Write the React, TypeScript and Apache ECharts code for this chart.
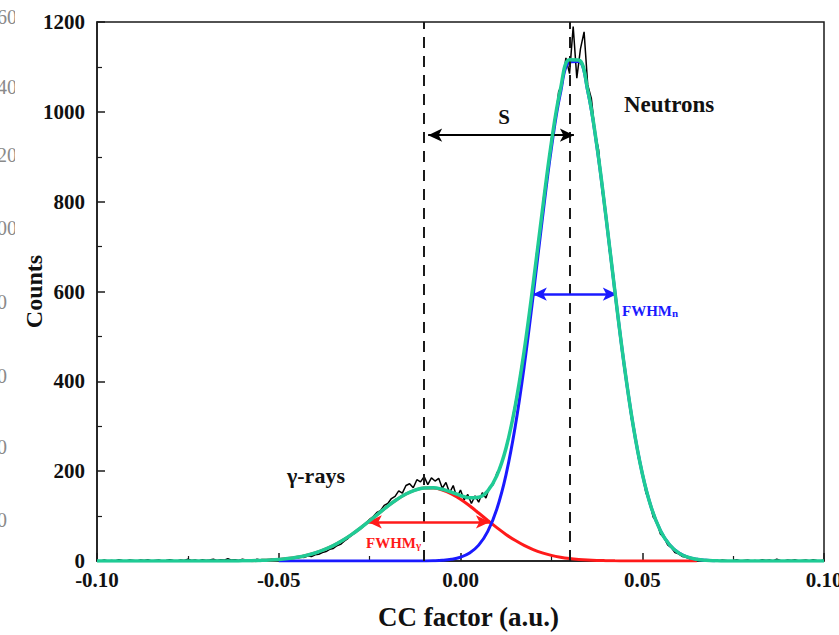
import React, { useEffect, useRef } from "react";
import * as echarts from "echarts";

// ---- Axis ranges / ticks ----
const xRange = [-0.1, 0.1];
const yRange = [0, 1200];
const xInterval = 0.05;
const yInterval = 200;

// ---- Measured spectrum (black), step 0.001 ----
const countsStep = 0.001;
const countsLeftStart = -0.1; // -0.100 .. -0.051
const countsLeft = [
  1, 0, 2, 0, 1, 0, 3, 1, 0, 2,
  1, 0, 2, 1, 3, 0, 1, 2, 0, 1,
  3, 1, 0, 2, 1, 4, 1, 2, 0, 3,
  1, 2, 4, 1, 3, 2, 5, 2, 3, 1,
  4, 2, 3, 1, 4, 2, 3, 1, 4, 2,
];
const countsCoreStart = -0.05; // -0.050 .. 0.070
const countsCore = [
  5, 3, 6, 4, 7, 6, 9, 8, 11, 10,
  14, 15, 19, 21, 26, 28, 34, 37, 44, 50,
  57, 63, 71, 78, 84, 93, 99, 108, 112, 124,
  128, 139, 144, 156, 151, 168, 172, 163, 181, 176,
  188, 170, 185, 178, 184, 162, 175, 152, 168, 141,
  158, 136, 148, 128, 145, 131, 152, 140, 165, 170,
  196, 208, 238, 268, 305, 348, 392, 445, 490, 560,
  612, 690, 740, 820, 862, 940, 975, 1045, 1062, 1120,
  1085, 1190, 1075, 1140, 1178, 1060, 1030, 955, 915, 822,
  775, 690, 640, 560, 505, 430, 384, 318, 280, 228,
  198, 152, 134, 98, 88, 60, 52, 36, 30, 19,
  16, 10, 9, 5, 6, 2, 3, 1, 2, 0,
  1,
];
const countsRightStart = 0.071; // 0.071 .. 0.100
const countsRight = [
  0, 2, 1, 0, 1, 3, 0, 1, 2, 0,
  1, 0, 3, 1, 2, 0, 4, 1, 0, 2,
  1, 3, 0, 1, 2, 0, 3, 1, 0, 2,
];

// ---- Fitted curves, step 0.0025 ----
const fitStep = 0.0025;
const gammaFitStart = -0.0575;
const gammaFit = [
  0.6, 1.3, 2.2, 3.5, 5.5, 8.4, 12.4, 17.9, 25.2, 34.3,
  45.5, 58.7, 73.5, 89.6, 106.1, 122.3, 136.9, 149.1, 157.8, 162.4,
  162.5, 158.1, 149.5, 137.5, 122.9, 106.8, 90.3, 74.2, 59.2, 46.0,
  34.7, 25.5, 18.2, 12.6, 8.5, 5.6, 3.6, 2.2, 1.3, 0.8,
  0.4, 0.2, 0.1, 0, 0, 0, 0, 0, 0, 0,
];
const neutronFitStart = -0.05;
const neutronFit = [
  0, 0, 0, 0, 0, 0, 0, 0, 0, 0,
  0, 0, 0, 0, 0, 0, 0.2, 0.6, 1.5, 3.7,
  8.4, 17.7, 35.3, 66.0, 115.9, 191.3, 296.8, 432.2, 591.7, 760.5,
  918.7, 1041.9, 1110.6, 1111.9, 1046.0, 924.1, 767.1, 598.2, 438.1, 301.5,
  195.0, 118.4, 67.5, 36.2, 18.2, 8.6, 3.8, 1.6, 0.6,
];
const totalFitStart = -0.1;
const totalFit = [
  0, 0, 0, 0, 0, 0, 0, 0, 0, 0,
  0, 0, 0, 0, 0, 0, 0.4, 0.6, 1.3, 2.2,
  3.5, 5.5, 8.4, 12.4, 17.9, 25.2, 34.3, 45.5, 58.7, 73.5,
  89.6, 106.1, 122.3, 136.9, 149.1, 157.8, 162.6, 163.1, 159.6, 153.2,
  145.9, 140.6, 142.1, 156.3, 190.1, 250.5, 342.8, 466.9, 617.2, 778.7,
  931.3, 1050.4, 1116.2, 1115.5, 1048.2, 925.4, 767.9, 598.6, 438.3, 301.6,
  195.0, 118.4, 67.5, 36.2, 18.2, 8.6, 3.8, 1.6, 0.6, 0,
  0, 0, 0, 0, 0, 0, 0, 0, 0, 0,
  0,
];

// ---- Annotations (data units) ----
const peakGamma = -0.0089;
const peakNeutron = 0.0312;
const sArrowY = 948;
const fwhmGamma = [-0.0255, 0.0081];
const fwhmGammaY = 87;
const fwhmNeutron = [0.0199, 0.043];
const fwhmNeutronY = 594;

// leftover labels from a neighbouring panel (cut at the left edge)
const ghostLabels = ["60", "40", "20", "00", "0", "0", "0", "0"];
const ghostY = [17, 87, 155, 228, 302, 376, 447, 520];

const pairs = (start: number, step: number, vals: number[]) =>
  vals.map((v, i) => [+(start + i * step).toFixed(5), v]);

const FONT = "'Liberation Serif', 'Times New Roman', serif";

export default function App() {
  const ref = useRef<HTMLDivElement>(null);
  useEffect(() => {
    if (!ref.current) return;
    const chart = echarts.init(ref.current, undefined, { renderer: "svg" });
    const black = [
      ...pairs(countsLeftStart, countsStep, countsLeft),
      ...pairs(countsCoreStart, countsStep, countsCore),
      ...pairs(countsRightStart, countsStep, countsRight),
    ];
    const axisLine = { onZero: false, lineStyle: { color: "#1a1a1a", width: 1.5 } };
    const option: any = {
      animation: false,
      backgroundColor: "#ffffff",
      grid: {
        left: 97,
        right: 15,
        top: 22,
        bottom: 74,
        show: true,
        borderColor: "#1a1a1a",
        borderWidth: 1.5,
        containLabel: false,
        outerBoundsMode: "none",
      },
      xAxis: {
        type: "value",
        min: xRange[0],
        max: xRange[1],
        interval: xInterval,
        name: "CC factor (a.u.)",
        nameLocation: "middle",
        nameGap: 42,
        nameMoveOverlap: false,
        nameTextStyle: {
          fontFamily: FONT,
          fontWeight: "bold",
          fontSize: 27,
          color: "#111",
          padding: [0, 0, 0, 16],
        },
        axisLine,
        axisTick: { inside: true, length: 8, lineStyle: { color: "#1a1a1a", width: 1.5 } },
        minorTick: { show: true, splitNumber: 2, length: 5, lineStyle: { color: "#1a1a1a", width: 1.2 } },
        splitLine: { show: false },
        axisLabel: {
          fontFamily: FONT,
          fontWeight: "bold",
          fontSize: 21,
          color: "#111",
          margin: 8,
          hideOverlap: false,
          formatter: (v: number) => v.toFixed(2),
        },
      },
      yAxis: {
        type: "value",
        min: yRange[0],
        max: yRange[1],
        interval: yInterval,
        name: "Counts",
        nameLocation: "middle",
        nameGap: 51,
        nameMoveOverlap: false,
        nameTextStyle: { fontFamily: FONT, fontWeight: "bold", fontSize: 24, color: "#111" },
        axisLine,
        axisTick: { inside: true, length: 8, lineStyle: { color: "#1a1a1a", width: 1.5 } },
        minorTick: { show: true, splitNumber: 2, length: 5, lineStyle: { color: "#1a1a1a", width: 1.2 } },
        splitLine: { show: false },
        axisLabel: {
          fontFamily: FONT,
          fontWeight: "bold",
          fontSize: 21,
          color: "#111",
          margin: 12,
          formatter: (v: number) => String(v),
        },
      },
      series: [
        {
          name: "data",
          type: "line",
          data: black,
          showSymbol: false,
          lineStyle: { color: "#000", width: 1.5 },
          z: 2,
        },
        {
          name: "gamma",
          type: "line",
          data: pairs(gammaFitStart, fitStep, gammaFit),
          smooth: 0.4,
          showSymbol: false,
          lineStyle: { color: "#ff1a1a", width: 3 },
          z: 3,
        },
        {
          name: "neutron",
          type: "line",
          data: pairs(neutronFitStart, fitStep, neutronFit),
          smooth: 0.4,
          showSymbol: false,
          lineStyle: { color: "#1a1aff", width: 3 },
          z: 4,
        },
        {
          name: "total",
          type: "line",
          data: pairs(totalFitStart, fitStep, totalFit),
          smooth: 0.4,
          showSymbol: false,
          lineStyle: { color: "#1fcb95", width: 3.5 },
          z: 5,
        },
        {
          name: "dashes",
          type: "line",
          data: [],
          z: 6,
          markLine: {
            silent: true,
            symbol: "none",
            label: { show: false },
            lineStyle: { color: "#1a1a1a", width: 2, type: [11, 8] },
            data: [{ xAxis: peakGamma }, { xAxis: peakNeutron }],
          },
        },
        {
          name: "arrows",
          type: "line",
          data: [],
          z: 7,
          markLine: {
            silent: true,
            symbol: ["arrow", "arrow"],
            symbolSize: [10, 14],
            label: { show: false },
            data: [
              [
                { coord: [peakGamma, sArrowY], lineStyle: { color: "#000", width: 2, type: "solid" }, itemStyle: { color: "#000" } },
                { coord: [peakNeutron, sArrowY] },
              ],
              [
                { coord: [fwhmGamma[0], fwhmGammaY], lineStyle: { color: "#ff1a1a", width: 2.5, type: "solid" }, itemStyle: { color: "#ff1a1a" } },
                { coord: [fwhmGamma[1], fwhmGammaY] },
              ],
              [
                { coord: [fwhmNeutron[0], fwhmNeutronY], lineStyle: { color: "#1a1aff", width: 2.5, type: "solid" }, itemStyle: { color: "#1a1aff" } },
                { coord: [fwhmNeutron[1], fwhmNeutronY] },
              ],
            ],
          },
        },
      ],
      graphic: [
        ...ghostLabels.map((t, i) => ({
          type: "text",
          x: -3,
          y: ghostY[i],
          z: 1,
          style: { text: t, font: `20px ${FONT}`, fill: "#8a8a8a", verticalAlign: "middle", align: "left" },
        })),
        { type: "rect", shape: { x: 15, y: 0, width: 6, height: 250 }, style: { fill: "#fff" }, z: 2 },
        { type: "rect", shape: { x: 15, y: 340, width: 6, height: 220 }, style: { fill: "#fff" }, z: 2 },
        {
          type: "text",
          x: 504,
          y: 117,
          style: { text: "S", font: `bold 21px ${FONT}`, fill: "#111", align: "center", verticalAlign: "middle" },
        },
        {
          type: "text",
          x: 624,
          y: 104,
          style: { text: "Neutrons", font: `bold 23px ${FONT}`, fill: "#111", align: "left", verticalAlign: "middle" },
        },
        {
          type: "text",
          x: 287,
          y: 475,
          style: { text: "γ-rays", font: `bold 22px ${FONT}`, fill: "#111", align: "left", verticalAlign: "middle" },
        },
        {
          type: "text",
          x: 366,
          y: 533,
          style: {
            text: "{a|FWHM}{b|γ}",
            rich: {
              a: { font: `bold 15px ${FONT}`, fill: "#ff1a1a", color: "#ff1a1a", verticalAlign: "bottom" },
              b: { font: `bold 11px ${FONT}`, fill: "#ff1a1a", color: "#ff1a1a", verticalAlign: "bottom", padding: [6, 0, 0, 0] },
            },
          },
        },
        {
          type: "text",
          x: 622,
          y: 301,
          style: {
            text: "{a|FWHM}{b|n}",
            rich: {
              a: { font: `bold 15px ${FONT}`, fill: "#1a1aff", color: "#1a1aff", verticalAlign: "bottom" },
              b: { font: `bold 11px ${FONT}`, fill: "#1a1aff", color: "#1a1aff", verticalAlign: "bottom", padding: [6, 0, 0, 0] },
            },
          },
        },
      ],
    };
    chart.setOption(option);
    return () => chart.dispose();
  }, []);
  return (
    <div
      ref={ref}
      style={{ position: "absolute", left: 0, top: 0, width: 839, height: 635, background: "#fff" }}
    />
  );
}
